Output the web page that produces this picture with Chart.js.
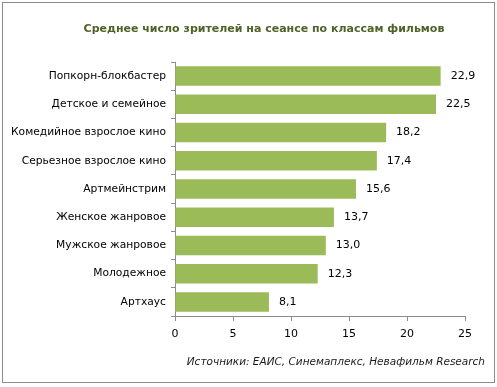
<!DOCTYPE html>
<html>
<head>
<meta charset="utf-8">
<script src="https://cdn.jsdelivr.net/npm/chart.js@4"></script>
<style>
  body { margin: 0; background: #fff; }
  #wrap { width: 497px; height: 387px; position: relative; }
</style>
</head>
<body>
<div id="wrap"><canvas id="chartFilms" width="497" height="387"></canvas></div>
<script>
const labelsFilms = [
    'Попкорн-блокбастер',
    'Детское и семейное',
    'Комедийное взрослое кино',
    'Серьезное взрослое кино',
    'Артмейнстрим',
    'Женское жанровое',
    'Мужское жанровое',
    'Молодежное',
    'Артхаус'
];

const valuesFilms = [22.9, 22.5, 18.2, 17.4, 15.6, 13.7, 13.0, 12.3, 8.1];

const xTicks = [0, 5, 10, 15, 20, 25];

const titleText = 'Среднее число зрителей на сеансе по классам фильмов';
const sourceText = 'Источники: ЕАИС, Синемаплекс, Невафильм Research';

const FONT = '"DejaVu Sans", Verdana, sans-serif';

// рамка, заголовок, источник и подписи значений
const decorPlugin = {
    id: 'decor',
    beforeDraw(chart) {
        const ctx = chart.ctx;
        ctx.save();
        ctx.fillStyle = '#fff';
        ctx.fillRect(0, 0, chart.width, chart.height);
        ctx.strokeStyle = '#8c8c8c';
        ctx.lineWidth = 1;
        ctx.strokeRect(2.5, 2.5, 492, 380);
        ctx.restore();
    },
    afterDraw(chart) {
        const ctx = chart.ctx;
        ctx.save();
        ctx.font = 'bold 11px ' + FONT;
        ctx.fillStyle = '#4f6228';
        ctx.textAlign = 'center';
        ctx.textBaseline = 'middle';
        ctx.fillText(titleText, 264, 29);

        ctx.font = 'italic 10.5px ' + FONT;
        ctx.fillStyle = '#1a1a1a';
        ctx.textAlign = 'right';
        ctx.fillText(sourceText, 485, 362);

        ctx.font = '11px ' + FONT;
        ctx.fillStyle = '#000';
        ctx.textAlign = 'left';
        const meta = chart.getDatasetMeta(0);
        meta.data.forEach((bar, i) => {
            ctx.fillText(valuesFilms[i].toFixed(1).replace('.', ','), bar.x + 10, bar.y);
        });
        ctx.restore();
    }
};

const dataFilms = {
    labels: labelsFilms,
    datasets: [{
        data: valuesFilms,
        backgroundColor: '#9bbb59',
        borderWidth: 0,
        categoryPercentage: 1,
        barPercentage: 0.69
    }]
};

const configFilms = {
    type: 'bar',
    data: dataFilms,
    plugins: [decorPlugin],
    options: {
        indexAxis: 'y',
        responsive: false,
        animation: false,
        layout: { padding: { top: 62, left: 8, right: 32, bottom: 41 } },
        plugins: {
            legend: { display: false },
            title: { display: false },
            tooltip: { enabled: false }
        },
        scales: {
            x: {
                min: 0,
                max: 25,
                afterBuildTicks(scale) {
                    scale.ticks = xTicks.map(v => ({ value: v }));
                },
                afterFit(scale) { scale.height = 30; },
                grid: { drawOnChartArea: false, tickLength: 5, color: '#8c8c8c' },
                border: { color: '#8c8c8c' },
                ticks: { font: { family: FONT, size: 11 }, color: '#000', padding: 7 }
            },
            y: {
                afterFit(scale) { scale.width = 175 - 8; },
                grid: { drawOnChartArea: false, tickLength: 4, color: '#8c8c8c' },
                border: { color: '#8c8c8c' },
                ticks: { font: { family: FONT, size: 10.7 }, color: '#000', padding: 5 }
            }
        }
    }
};

const myChartFilms = new Chart(
    document.getElementById('chartFilms'),
    configFilms
);
</script>
</body>
</html>
